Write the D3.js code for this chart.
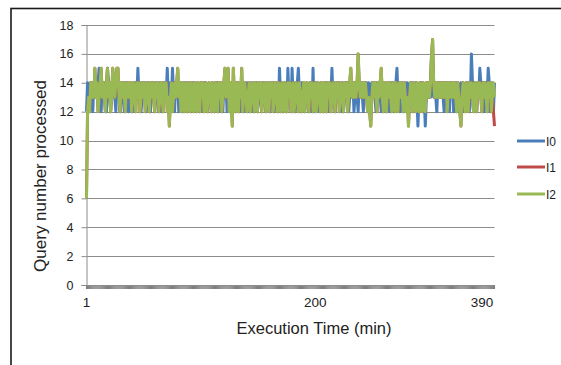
<!DOCTYPE html>
<html>
<head>
<meta charset="utf-8">
<script src="https://cdn.jsdelivr.net/npm/d3@7"></script>
<style>
  body { margin: 0; background: #fff; }
  svg text { font-family: 'Liberation Sans', Arial, sans-serif; fill: #222; }
</style>
</head>
<body>
<div id="chart"></div>
<script>
// values, one per minute (1..390)
const seriesNames = ['I0', 'I1', 'I2']
const seriesColors = ['#4a7ebb', '#be4b48', '#98b954']

const I0 = [
  12,14,13,12,14,13,12,14,13,14, 13,14,15,13,12,14,13,14,13,12,
  15,14,13,12,14,13,14,13,12,14, 13,14,12,13,14,13,12,14,13,14,
  12,13,14,13,12,14,13,14,13,15, 13,14,12,13,14,13,14,12,13,14,
  13,12,14,13,14,12,13,14,13,12, 14,13,12,14,13,14,13,15,13,12,
  14,13,15,13,12,14,13,14,12,13, 14,13,12,14,13,14,12,13,14,13,
  12,14,13,14,12,13,14,13,12,14, 13,12,14,13,14,12,13,14,13,12,
  14,13,12,14,13,14,12,13,14,13, 12,14,13,14,12,13,14,13,12,14,
  13,14,12,13,14,13,12,14,13,14, 12,13,14,13,14,12,13,14,13,12,
  14,13,14,12,13,14,13,12,14,13, 14,12,13,14,13,12,14,13,14,12,
  13,14,13,12,15,13,14,12,13,14, 13,12,15,13,14,12,15,13,14,12,
  13,14,15,13,12,14,13,14,12,13, 14,13,12,14,13,12,15,12,13,14,
  13,14,12,13,14,13,12,14,13,14, 12,13,14,13,15,13,14,12,13,14,
  13,14,13,12,14,12,13,14,13,14, 12,13,14,13,14,12,13,14,13,12,
  14,13,14,13,12,14,13,14,13,14, 13,12,14,13,14,13,12,14,13,14,
  13,12,14,13,14,12,13,14,13,12, 14,13,14,12,13,14,15,13,14,12,
  13,14,12,13,14,13,14,12,13,14, 13,14,12,13,14,13,11,13,14,13,
  14,12,13,11,13,14,13,14,13,16, 14,13,14,13,12,14,13,14,13,14,
  13,12,14,13,14,13,12,14,13,14, 12,13,14,13,14,12,13,14,13,14,
  12,13,14,13,14,12,13,16,14,13, 14,13,12,14,13,15,14,13,14,12,
  13,14,13,15,14,12,13,14,12,14
]

const I1 = [
  6,12,13,12,14,13,14,13,15,13, 14,12,13,14,15,13,14,13,12,14,
  15,13,14,12,13,15,14,13,14,15, 15,13,12,14,13,14,13,12,14,13,
  14,13,14,12,13,14,13,12,14,13, 14,12,13,14,13,14,12,13,14,13,
  12,14,13,14,13,12,14,13,14,12, 13,14,13,12,14,13,14,12,13,11,
  13,14,12,13,14,13,14,15,13,14, 12,13,14,12,14,13,12,14,13,12,
  14,13,12,14,13,12,14,13,12,14, 13,14,12,13,14,12,13,14,13,12,
  14,13,12,14,13,12,14,13,14,12, 13,14,15,13,14,15,12,14,13,11,
  15,13,12,14,13,12,14,13,15,12, 13,14,13,12,13,14,12,13,14,13,
  12,14,13,12,14,13,14,12,13,14, 13,12,14,13,12,14,13,14,12,13,
  14,13,12,14,13,12,14,13,12,14, 13,12,14,13,14,12,13,14,12,13,
  14,13,12,14,13,12,13,14,12,13, 14,13,12,14,13,14,12,13,14,12,
  13,14,13,12,14,13,12,14,13,12, 14,13,14,12,13,14,13,12,14,13,
  14,12,13,14,13,12,14,13,14,12, 13,14,15,13,14,13,14,13,14,16,
  14,13,14,13,14,13,14,13,12,13, 12,11,13,14,13,14,13,12,14,13,
  14,15,13,12,14,13,12,14,13,14, 13,12,14,13,12,14,13,12,14,13,
  14,13,12,14,13,12,13,11,13,14, 13,12,14,13,12,14,13,12,14,13,
  12,14,13,12,14,13,14,13,14,16, 17,14,13,14,13,14,13,14,13,14,
  13,14,13,14,12,14,13,14,13,14, 13,14,13,12,14,13,12,11,13,14,
  13,12,14,13,12,14,13,14,13,12, 14,13,12,14,13,14,13,12,14,13,
  14,13,12,14,13,14,12,13,12,11
]

const I2 = [
  6,12,13,12,14,13,14,13,15,13, 14,12,13,14,15,13,14,13,12,14,
  15,13,14,12,13,15,14,13,14,15, 15,13,12,14,13,14,13,12,14,13,
  14,13,14,12,13,14,13,12,14,13, 14,12,13,14,13,14,12,13,14,13,
  12,14,13,14,13,12,14,13,14,12, 13,14,13,12,14,13,14,12,13,11,
  13,14,12,13,14,13,14,15,13,14, 12,13,14,12,14,13,12,14,13,12,
  14,13,12,14,13,12,14,13,12,14, 13,14,12,13,14,12,13,14,13,12,
  14,13,12,14,13,12,14,13,14,12, 13,14,15,13,14,15,12,14,13,11,
  15,13,12,14,13,12,14,13,15,12, 13,14,13,12,13,14,12,13,14,13,
  12,14,13,12,14,13,14,12,13,14, 13,12,14,13,12,14,13,14,12,13,
  14,13,12,14,13,12,14,13,12,14, 13,12,14,13,14,12,13,14,12,13,
  14,13,12,14,13,12,13,14,12,13, 14,13,12,14,13,14,12,13,14,12,
  13,14,13,12,14,13,12,14,13,12, 14,13,14,12,13,14,13,12,14,13,
  14,12,13,14,13,12,14,13,14,12, 13,14,15,13,14,13,14,13,14,16,
  14,13,14,13,14,13,14,13,12,13, 12,11,13,14,13,14,13,12,14,13,
  14,15,13,12,14,13,12,14,13,14, 13,12,14,13,12,14,13,12,14,13,
  14,13,12,14,13,12,13,11,13,14, 13,12,14,13,12,14,13,12,14,13,
  12,14,13,12,14,13,14,13,14,16, 17,14,13,14,13,14,13,14,13,14,
  13,14,13,14,12,14,13,14,13,14, 13,14,13,12,14,13,12,11,13,14,
  13,12,14,13,12,14,13,14,13,12, 14,13,12,14,13,14,13,12,14,13,
  14,13,12,14,13,14,12,13,14,13
]

const yTicks = [0, 2, 4, 6, 8, 10, 12, 14, 16, 18]
// category labels and the minute they sit under
const xTickText = ['1', '200', '390']
const xTickAt = [1, 219, 378]

const drawChart = () => {
  const w = 561
  const h = 365
  const left = 86.5
  const right = 494.5
  const top = 25
  const bottom = 285

  const svg = d3.select('#chart')
    .append('svg')
    .attr('width', w)
    .attr('height', h)

  // chart frame
  svg.append('rect')
    .attr('x', 11)
    .attr('y', 8.5)
    .attr('width', 700)
    .attr('height', 500)
    .attr('fill', 'none')
    .attr('stroke', '#1a1a1a')
    .attr('stroke-width', 1.6)

  const minutes = d3.range(1, I0.length + 1)

  const xScale = d3.scalePoint()
    .domain(minutes)
    .range([left, right])

  const yScale = d3.scaleLinear()
    .domain([0, 18])
    .range([bottom, top])

  // gridlines
  svg.append('g')
    .selectAll('line')
    .data(yTicks.filter(d => d > 0))
    .enter()
    .append('line')
    .attr('x1', left)
    .attr('x2', right)
    .attr('y1', d => Math.round(yScale(d)) + 0.5)
    .attr('y2', d => Math.round(yScale(d)) + 0.5)
    .attr('stroke', '#8c8c8c')
    .attr('stroke-width', 1)

  const yAxis = d3.axisLeft(yScale)
    .tickValues(yTicks)
    .tickSize(5)
    .tickPadding(8)

  const gy = svg.append('g')
    .attr('transform', 'translate(' + left + ',0)')
    .call(yAxis)
  gy.select('.domain').attr('stroke', '#8c8c8c')
  gy.selectAll('.tick line').attr('stroke', '#8c8c8c')
  gy.selectAll('.tick text')
    .style('font-size', '12.5px')
    .attr('fill', '#222')

  // dense category ticks under the axis
  svg.append('g')
    .selectAll('line')
    .data(minutes)
    .enter()
    .append('line')
    .attr('x1', d => xScale(d))
    .attr('x2', d => xScale(d))
    .attr('y1', bottom)
    .attr('y2', bottom + 4)
    .attr('stroke', '#7f7f7f')
    .attr('stroke-width', 1.1)

  svg.append('line')
    .attr('x1', left)
    .attr('x2', right)
    .attr('y1', bottom + 0.5)
    .attr('y2', bottom + 0.5)
    .attr('stroke', '#8c8c8c')

  svg.append('g')
    .selectAll('text')
    .data(xTickText)
    .enter()
    .append('text')
    .attr('x', (d, i) => xScale(xTickAt[i]))
    .attr('y', 307)
    .attr('text-anchor', 'middle')
    .style('font-size', '13.5px')
    .text(d => d)

  const line = d3.line()
    .x((d, i) => xScale(minutes[i]))
    .y(d => yScale(d))

  const data = [I0, I1, I2]
  svg.append('g')
    .selectAll('path')
    .data(data)
    .enter()
    .append('path')
    .attr('d', d => line(d))
    .attr('fill', 'none')
    .attr('stroke', (d, i) => seriesColors[i])
    .attr('stroke-width', 3)
    .attr('stroke-linejoin', 'round')

  // legend
  const legend = svg.append('g')
    .selectAll('g')
    .data(seriesNames)
    .enter()
    .append('g')
    .attr('transform', (d, i) => 'translate(517,' + [141, 167, 194][i] + ')')

  legend.append('line')
    .attr('x1', 0)
    .attr('x2', 28)
    .attr('stroke', (d, i) => seriesColors[i])
    .attr('stroke-width', 3)

  legend.append('text')
    .attr('x', 29)
    .attr('y', 4.5)
    .style('font-size', '12px')
    .text(d => d)

  // axis titles
  svg.append('text')
    .attr('x', 314)
    .attr('y', 334)
    .attr('text-anchor', 'middle')
    .style('font-size', '16.5px')
    .text('Execution Time (min)')

  svg.append('text')
    .attr('transform', 'translate(46,176) rotate(-90)')
    .attr('text-anchor', 'middle')
    .style('font-size', '17px')
    .text('Query number processed')
}

drawChart()
</script>
</body>
</html>
